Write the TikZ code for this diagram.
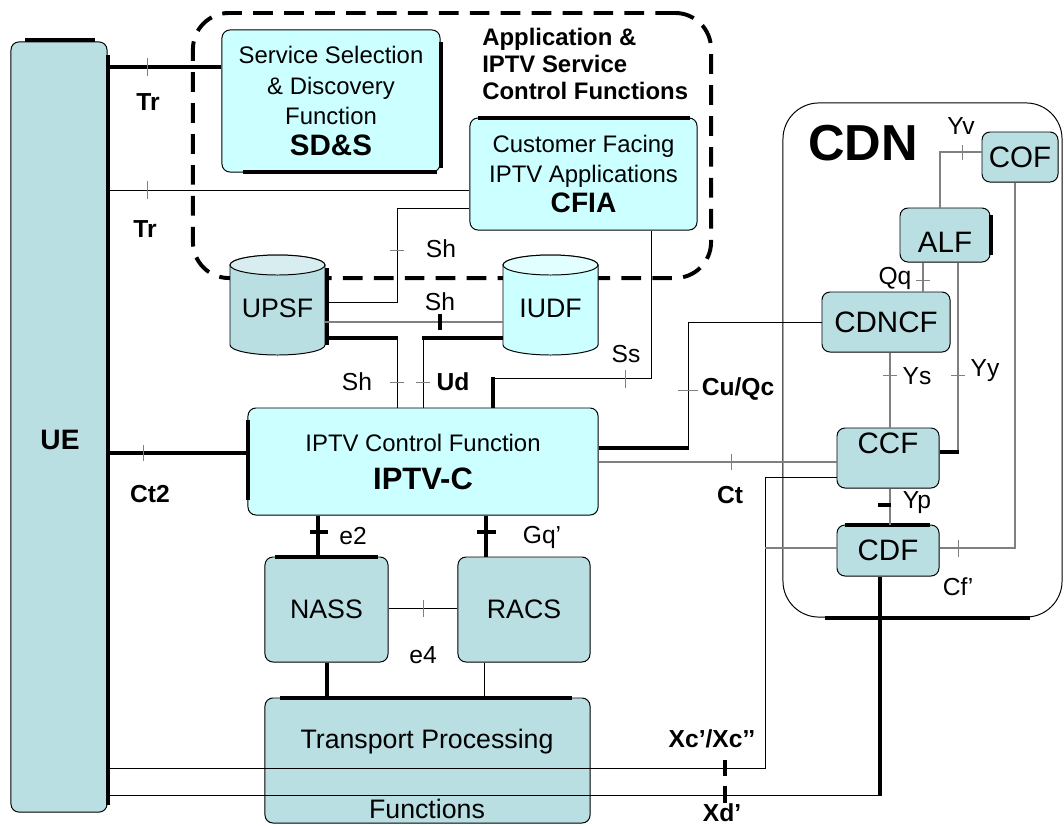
\documentclass[tikz,border=0pt]{standalone}
\usepackage{fontspec}
\setmainfont{Liberation Sans}
\usetikzlibrary{calc}
\definecolor{tealc}{HTML}{B9DFE3}
\definecolor{cyanc}{HTML}{CCFFFF}
\definecolor{grayc}{HTML}{808080}
\definecolor{ttop}{HTML}{D8EDEF}
\definecolor{ctop}{HTML}{E2FFFF}
\begin{document}
\begin{tikzpicture}[x=0.025cm,y=-0.025cm,
  box/.style={draw=black,line width=0.7pt,rounded corners=0.2cm,inner sep=0pt,align=center},
  tealbox/.style={box,fill=tealc},
  cyanbox/.style={box,fill=cyanc},
  thk/.style={line width=2.8pt},
  thn/.style={line width=0.7pt},
  gry/.style={line width=0.8pt,draw=grayc},
  tck/.style={line width=0.7pt,draw=grayc},
  tckb/.style={line width=2.8pt},
  lbl/.style={inner sep=0pt,font=\fontsize{17.5}{20}\selectfont},
  blbl/.style={inner sep=0pt,font=\bfseries\fontsize{17.5}{20}\selectfont},
  shd/.style={line width=2.8pt}
]
\fill[white] (0,0) rectangle (1064,825);
\useasboundingbox (0,0) rectangle (1064,825);

% group boundaries
\node[draw=black,line width=0.7pt,rounded corners=0.9cm,minimum width=6.975cm,minimum height=12.85cm,inner sep=0pt] (cdn) at (922.5,360) {};
\draw[shd] (825,618) -- (1030,618);
\node[draw=black,line width=2.8pt,dash pattern=on 14pt off 8pt,rounded corners=0.9cm,minimum width=12.95cm,minimum height=6.625cm,inner sep=0pt] (asf) at (452,145.5) {};
\node[blbl,font=\bfseries\fontsize{36}{40}\selectfont] (cdnL) at (863,143) {CDN};
\node[blbl,anchor=west,align=left,font=\bfseries\fontsize{17}{19}\selectfont] (asfL) at (482,64) {Application \&\\IPTV Service\\Control Functions};

% boxes
\node[tealbox,minimum width=2.4cm,minimum height=19.25cm] (ue) at (59,427) {};
\node[blbl,font=\bfseries\fontsize{20}{22}\selectfont] (ueL) at (60,440) {UE};
\draw[shd] (25,40) -- (95,40);
\draw[shd] (108,55) -- (108,805);

\node[cyanbox,minimum width=5.45cm,minimum height=3.55cm,font=\fontsize{17}{22}\selectfont] (sds) at (331,101) {Service Selection\\\& Discovery\\Function\\{\bfseries\fontsize{21}{22}\selectfont SD\&S}};
\draw[shd] (243,172) -- (437,172);
\draw[shd] (441,42) -- (441,168);

\node[cyanbox,minimum width=5.675cm,minimum height=2.8cm,font=\fontsize{17}{21.3}\selectfont] (cfia) at (583.5,174) {Customer Facing\\IPTV Applications\\{\bfseries\fontsize{20}{21.3}\selectfont CFIA}};
\draw[shd] (478,118) -- (690,118);

\node[cyanbox,minimum width=8.75cm,minimum height=2.675cm,font=\fontsize{17}{27}\selectfont] (iptvc) at (423,461.5) {IPTV Control Function\\{\bfseries\fontsize{22}{27}\selectfont IPTV-C}};
\draw[shd] (248,420) -- (248,500);

\node[tealbox,minimum width=3.075cm,minimum height=2.625cm,font=\fontsize{19}{22}\selectfont] (nass) at (326.5,609.5) {NASS};
\draw[shd] (275,557) -- (378,557);
\node[tealbox,minimum width=3.3cm,minimum height=2.625cm,font=\fontsize{19}{22}\selectfont] (racs) at (524,609.5) {RACS};

\node[tealbox,minimum width=8.125cm,minimum height=3.125cm] (tpf) at (427.5,760.5) {};
\draw[shd] (280,698) -- (572,698);
\node[lbl,font=\fontsize{19}{22}\selectfont] (tpfL1) at (427,742) {Transport Processing};
\node[lbl,font=\fontsize{19}{22}\selectfont] (tpfL2) at (427,809) {Functions};

\node[tealbox,minimum width=1.9cm,minimum height=1.25cm,font=\fontsize{21}{24}\selectfont] (cof) at (1020,157) {COF};
\node[tealbox,minimum width=2.25cm,minimum height=1.35cm] (alf) at (945,235) {};
\node[lbl,font=\fontsize{21}{24}\selectfont] (alfL) at (945,242) {ALF};
\draw[shd] (991,215) -- (991,255);
\node[tealbox,minimum width=3.2cm,minimum height=1.5cm,font=\fontsize{21}{24}\selectfont] (cdncf) at (886,322) {CDNCF};
\node[tealbox,minimum width=2.55cm,minimum height=1.5cm] (ccf) at (888,458) {};
\node[lbl,font=\fontsize{21}{24}\selectfont] (ccfL) at (888,443) {CCF};
\node[tealbox,minimum width=2.55cm,minimum height=1.275cm,font=\fontsize{21}{24}\selectfont] (cdf) at (888,550.5) {CDF};
\draw[shd] (845,525) -- (930,525);

% cylinders
\filldraw[fill=tealc,line width=0.7pt] (230,265) -- (230,345) arc[start angle=180,end angle=0,x radius=47.5,y radius=10] -- (325,265) arc[start angle=0,end angle=-180,x radius=47.5,y radius=10] -- cycle;
\filldraw[fill=ttop,line width=0.7pt] (277.5,265) ellipse[x radius=47.5,y radius=10];
\draw[shd] (327,268) -- (327,345);
\node[minimum width=2.375cm,minimum height=2.5cm,inner sep=0pt,font=\fontsize{19}{22}\selectfont] (upsf) at (277.5,308) {UPSF};

\filldraw[fill=cyanc,line width=0.7pt] (503,265) -- (503,345) arc[start angle=180,end angle=0,x radius=47.5,y radius=10] -- (598,265) arc[start angle=0,end angle=-180,x radius=47.5,y radius=10] -- cycle;
\filldraw[fill=ctop,line width=0.7pt] (550.5,265) ellipse[x radius=47.5,y radius=10];
\node[minimum width=2.375cm,minimum height=2.5cm,inner sep=0pt,font=\fontsize{19}{22}\selectfont] (iudf) at (550.5,308) {IUDF};

% connectors
\draw[thk] (ue.east |- 0,67) -- (sds.west |- 0,67);
\draw[tck] (147,58) -- (147,76);
\node[blbl] (tr1) at (148,102) {Tr};

\draw[thn] (ue.east |- 0,190) -- (cfia.west |- 0,190);
\draw[tck] (147,181) -- (147,199);
\node[blbl] (tr2) at (145,229) {Tr};

\draw[thn] (cfia.west |- 0,208) -- (397,208) -- (397,302) -- (upsf.east |- 0,302);
\draw[tck] (390,250) -- (404,250);
\node[lbl] (sh1) at (441,249) {Sh};

\draw[gry] (upsf.east |- 0,322) -- (iudf.west |- 0,322);
\draw[tckb] (440,314) -- (440,330);
\node[lbl] (sh2) at (440,302) {Sh};

\draw[thk] (upsf.east |- 0,338) -- (398,338);
\draw[thn] (397,338) -- (397,0 |- iptvc.north);
\draw[tck] (390,382) -- (404,382);
\node[lbl] (sh3) at (357,382) {Sh};

\draw[thk] (iudf.west |- 0,338) -- (422,338);
\draw[thn] (423,338) -- (423,0 |- iptvc.north);
\draw[tck] (416,382) -- (430,382);
\node[blbl] (ud) at (453,382) {Ud};

\draw[thn] (651,0 |- cfia.south) -- (651,378) -- (493,378);
\draw[thk] (493,377) -- (493,0 |- iptvc.north);
\draw[tck] (625,370) -- (625,388);
\node[lbl] (ss) at (626,354) {Ss};

\draw[thk] (iptvc.east |- 0,448) -- (689,448);
\draw[thn] (688,448) -- (688,322) -- (cdncf.west |- 0,322);
\draw[tck] (678,390) -- (698,390);
\node[blbl] (cuqc) at (738,389) {Cu/Qc};

\draw[gry] (iptvc.east |- 0,462) -- (ccf.west |- 0,462);
\draw[tck] (731,454) -- (731,470);
\node[blbl] (ct) at (730,495) {Ct};

\draw[thk] (ue.east |- 0,453) -- (iptvc.west |- 0,453);
\draw[tck] (143,445) -- (143,461);
\node[blbl] (ct2) at (150,494) {Ct2};

\draw[thk] (318,0 |- iptvc.south) -- (318,0 |- nass.north);
\draw[tckb] (310,532) -- (328,532);
\node[lbl] (e2) at (353,536) {e2};

\draw[thk] (486,0 |- iptvc.south) -- (486,0 |- racs.north);
\draw[tckb] (477,532) -- (496,532);
\node[lbl] (gq) at (542,537) {Gq'};

\draw[thn] (nass.east |- 0,608) -- (racs.west |- 0,608);
\draw[tck] (423,600) -- (423,617);
\node[lbl] (e4) at (423,655) {e4};

\draw[thk] (327,0 |- nass.south) -- (327,0 |- tpf.north);
\draw[thn] (484,0 |- racs.south) -- (484,0 |- tpf.north);

\draw[thn] (ue.east |- 0,768) -- (765,768) -- (765,477) -- (ccf.west |- 0,477);
\draw[gry] (765,548) -- (cdf.west |- 0,548);
\draw[tckb] (725,760) -- (725,776);
\node[blbl] (xc) at (712,739) {Xc’/Xc’’};

\draw[thn] (ue.east |- 0,795) -- (881,795);
\draw[thk] (880,796) -- (880,0 |- cdf.south);
\draw[tckb] (725,786) -- (725,803);
\node[blbl] (xd) at (722,813) {Xd’};

\draw[gry] (cof.west |- 0,152) -- (940,152) -- (940,0 |- alf.north);
\draw[tck] (962,145) -- (962,160);
\node[lbl] (yv) at (961,126) {Yv};

\draw[gry] (923,0 |- alf.south) -- (923,0 |- cdncf.north);
\draw[tck] (916,280) -- (930,280);
\node[lbl] (qq) at (895,278) {Qq};

\draw[gry] (958,0 |- alf.south) -- (958,452);
\draw[thk] (959,452) -- (ccf.east |- 0,452);
\draw[tck] (951,375) -- (965,375);
\node[lbl] (yy) at (985,371) {Yy};

\draw[gry] (890,0 |- cdncf.south) -- (890,0 |- ccf.north);
\draw[tck] (883,375) -- (897,375);
\node[lbl] (ys) at (917,376) {Ys};

\draw[gry] (890,0 |- ccf.south) -- (890,0 |- cdf.north);
\draw[tckb] (878,505) -- (891,505);
\node[lbl] (yp) at (917,503) {Yp};

\draw[gry] (1015,0 |- cof.south) -- (1015,548) -- (cdf.east |- 0,548);
\draw[tck] (958,540) -- (958,557);
\node[lbl] (cf) at (958,587) {Cf’};
\end{tikzpicture}
\end{document}
